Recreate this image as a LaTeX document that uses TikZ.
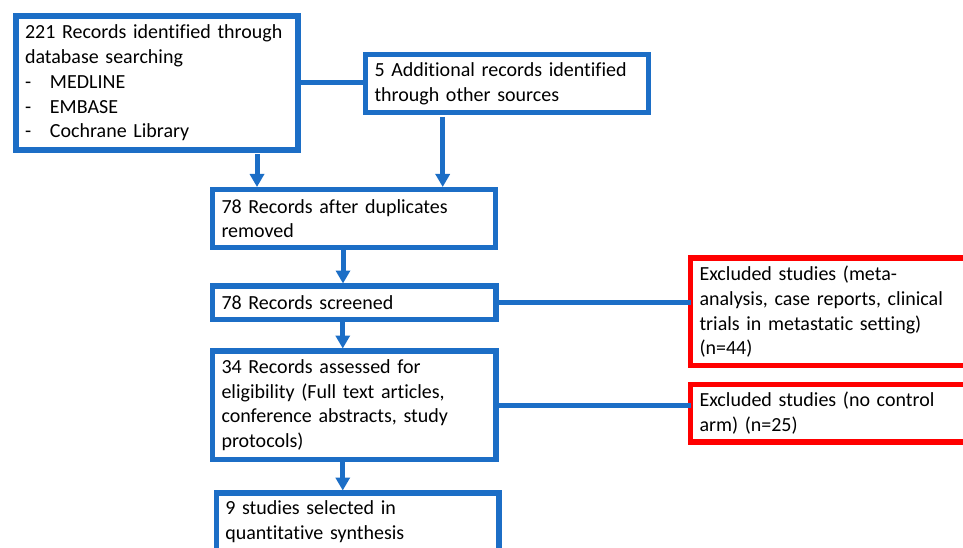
\documentclass[tikz,border=0pt]{standalone}
\usepackage{fontspec}
\setmainfont{Carlito}[Ligatures=NoCommon]
\usetikzlibrary{arrows.meta,positioning}
\definecolor{flowblue}{RGB}{28,110,198}
\definecolor{flowred}{RGB}{255,0,0}

\begin{document}
\begin{tikzpicture}
	[x=1pt,y=-1pt,>={Triangle[width=14pt,length=13pt]},
	box/.style={draw=flowblue,line width=5.5pt,anchor=north west,align=left,outer sep=0pt,
		inner xsep=9pt,inner ysep=0pt,font=\fontsize{20pt}{24.7pt}\selectfont},
	exbox/.style={box,draw=flowred,text width=300pt},
	link/.style={draw=flowblue,line width=5pt},
	arr/.style={link,->,shorten >=2.5pt}]
\clip (0,0) rectangle (963,548);

\node[box,text width=264pt,minimum height=134pt](db) at (16,16)
	{221 Records identified through\\database searching\\
	\makebox[25pt][l]{-}MEDLINE\\\makebox[25pt][l]{-}EMBASE\\\makebox[25pt][l]{-}Cochrane Library};
\node[box,text width=265pt,minimum height=58pt](other) at (365.5,54.5)
	{5 Additional records identified\\through other sources};
\node[box,text width=265pt,minimum height=58pt](dup) at (212.5,189.5)
	{78 Records after duplicates\\removed};
\node[box,text width=265.5pt,minimum height=33.5pt](scr)[below=38.5pt of dup.south west,anchor=north west]
	{78 Records screened};
\node[box,text width=265.5pt,minimum height=108.5pt](ass)[below=31.5pt of scr.south west,anchor=north west]
	{34 Records assessed for\\eligibility (Full text articles,\\conference abstracts, study\\protocols)};
\node[box,text width=264.7pt,minimum height=58pt](sel)[below right=33.5pt and 3.8pt of ass.south west,anchor=north west]
	{9 studies selected in\\quantitative synthesis};
\node[exbox,minimum height=107.5pt](exc_1) at (690.5,258)
	{Excluded studies (meta-\\analysis, case reports, clinical\\trials in metastatic setting)\\(n=44)};
\node[exbox,minimum height=57.5pt](exc_2) at (690.5,384.5)
	{Excluded studies (no control\\arm) (n=25)};

% arrow feet
\coordinate (db_out) at ([xshift=241pt]db.south west);
\coordinate (other_out) at ([xshift=77.2pt]other.south west);
\coordinate (dup_out) at ([xshift=-11pt]dup.south);
\coordinate (scr_out) at ([xshift=-11.5pt]scr.south);
\coordinate (ass_out) at ([xshift=-11.5pt]ass.south);

\draw[link] (db.east) -- (db.east -| other.west);
\draw[arr,shorten <=4.5pt] (db_out) -- (db_out |- dup.north);
\draw[arr,shorten <=4.5pt] (other_out) -- (other_out |- dup.north);
\draw[arr] (dup_out) -- (dup_out |- scr.north);
\draw[arr] (scr_out) -- (scr_out |- ass.north);
\draw[arr] (ass_out) -- (ass_out |- sel.north);
\draw[link] (scr.east) -- (scr.east -| exc_1.west);
\draw[link] (ass.east) -- (ass.east -| exc_2.west);
\end{tikzpicture}
\end{document}
